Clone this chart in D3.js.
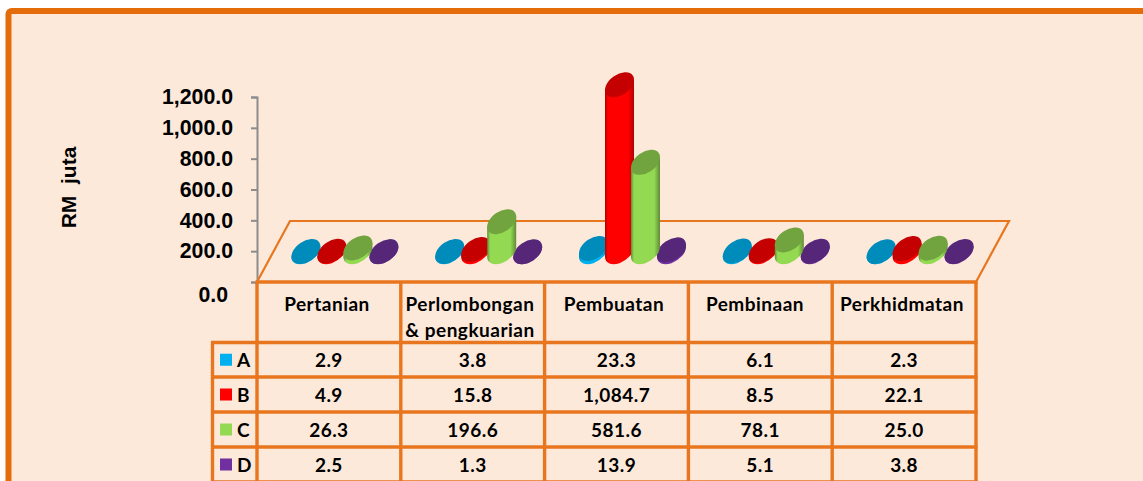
<!DOCTYPE html>
<html><head><meta charset="utf-8">
<script src="https://cdn.jsdelivr.net/npm/d3@7/dist/d3.min.js"></script>
<style>html,body{margin:0;padding:0;background:#fff;overflow:hidden}svg{display:block}</style>
</head><body><svg id="c" width="1143" height="481"></svg>
<script>
const categories = [["Pertanian"], ["Perlombongan", "& pengkuarian"], ["Pembuatan"], ["Pembinaan"], ["Perkhidmatan"]];
const seriesNames = ["A", "B", "C", "D"];
const seriesA = [2.9, 3.8, 23.3, 6.1, 2.3];
const seriesB = [4.9, 15.8, 1084.7, 8.5, 22.1];
const seriesC = [26.3, 196.6, 581.6, 78.1, 25.0];
const seriesD = [2.5, 1.3, 13.9, 5.1, 3.8];
const yTicks = [0, 200, 400, 600, 800, 1000, 1200];
const bodyColors = ["#00B0F0", "#FF0000", "#94D952", "#7030A0"];
const topColors = ["#008CBA", "#C40000", "#71A33F", "#562779"];
const edgeColors = ["#0086B8", "#B00000", "#5F8A36", "#4E2270"];
const drawOrder = [0, 3, 1, 2];
const allSeries = [seriesA, seriesB, seriesC, seriesD];

const ORANGE = "#E8761E", BG = "#FDE9DA";
const svg = d3.select("#c");
const fmt = d3.format(",.1f");

// frame
svg.append("rect").attr("x", 8.5).attr("y", 11).attr("width", 1300).attr("height", 700).attr("rx", 3)
  .attr("fill", BG).attr("stroke", "#E46C0A").attr("stroke-width", 6);

// scales
const colX = d3.scaleLinear().domain([0, 5]).range([257, 976]);
const y = d3.scaleLinear().domain([0, 1200]).range([282, 97]);
const rowY = [282, 342.5, 377, 412, 447, 482];
const baseShift = 30; // floor centre line of the bars above the axis zero
const group = d3.scaleBand().domain(d3.range(4)).range([-36, 68]);

// axis
const axis = d3.axisLeft(y).tickValues(yTicks).tickFormat(fmt).tickSize(6).tickPadding(18);
const ax = svg.append("g").attr("transform", "translate(257,0)").call(axis);
ax.select(".domain").attr("stroke", "#8C8C8C").attr("stroke-width", 2);
ax.selectAll(".tick line").attr("stroke", "#8C8C8C").attr("stroke-width", 2);
ax.selectAll("text").attr("font-family", "'Liberation Sans',Arial,sans-serif").attr("font-weight", 700)
  .attr("font-size", 21.3).attr("fill", "#000");
ax.selectAll(".tick").filter(d => d === 0).select("text").attr("x", -29).attr("dy", "0.9em");

svg.append("text").attr("transform", "translate(75.5,187.5) rotate(-90)").attr("text-anchor", "middle")
  .attr("font-family", "'Liberation Sans',Arial,sans-serif").attr("font-weight", 700).attr("font-size", 21)
  .attr("xml:space", "preserve").style("white-space", "pre").text("RM  juta");

// floor
svg.append("path").attr("d", d3.line()([[257, 282], [290, 221], [1009, 221], [976, 282]]))
  .attr("fill", "none").attr("stroke", ORANGE).attr("stroke-width", 2.2);

// gradients
const defs = svg.append("defs");
bodyColors.forEach((c, i) => {
  const g = defs.append("linearGradient").attr("id", "g" + i);
  [[0, edgeColors[i]], [0.1, c], [0.8, c], [1, edgeColors[i]]].forEach(s =>
    g.append("stop").attr("offset", s[0]).attr("stop-color", s[1]));
});

// cylinders
const rx = 16.2, ry = 10.2, ang = -35, W = 14.5, dy = 5.1;
const marks = svg.append("g");
categories.forEach((cat, ci) => {
  const cx = (colX(ci) + colX(ci + 1)) / 2;
  drawOrder.forEach(si => {
    const v = allSeries[si][ci];
    const x = cx + group(si) + group.bandwidth() / 2;
    const yb = y(0) - baseShift, yt = y(v) - baseShift;
    marks.append("path")
      .attr("d", `M${x - W},${yb + dy}L${x - W},${yt + dy}L${x + W},${yt - dy}L${x + W},${yb - dy}A${rx},${ry} ${ang} 0 1 ${x - W},${yb + dy}Z`)
      .attr("fill", `url(#g${si})`);
    marks.append("ellipse").attr("rx", rx).attr("ry", ry)
      .attr("transform", `translate(${x},${yt}) rotate(${ang})`).attr("fill", topColors[si]);
  });
});

// table
const tf = "Lato,'Open Sans',sans-serif";
const grid = svg.append("g").attr("stroke", ORANGE).attr("stroke-width", 3.4).attr("fill", "none");
d3.range(6).forEach(i => grid.append("line").attr("x1", colX(i)).attr("x2", colX(i)).attr("y1", 282).attr("y2", 482));
grid.append("line").attr("x1", 212.5).attr("x2", 212.5).attr("y1", rowY[1]).attr("y2", 482);
rowY.forEach((ry0, i) => grid.append("line").attr("x1", i === 0 ? 255.5 : 211).attr("x2", 977.5).attr("y1", ry0).attr("y2", ry0));

const headerCx = [327, 470, 614, 755, 902];
categories.forEach((lines, ci) => {
  lines.forEach((t, li) => svg.append("text").attr("x", headerCx[ci]).attr("y", 311 + li * 26)
    .attr("text-anchor", "middle").attr("font-family", tf).attr("font-weight", 700).attr("font-size", 19)
    .attr("letter-spacing", 0.5).text(t));
});
seriesNames.forEach((n, si) => {
  const cy = (rowY[si + 1] + rowY[si + 2]) / 2;
  svg.append("rect").attr("x", 220).attr("y", cy - 6).attr("width", 12).attr("height", 12).attr("fill", bodyColors[si]);
  svg.append("text").attr("x", 237).attr("y", cy + 7.5).attr("font-family", tf).attr("font-weight", 700)
    .attr("font-size", 19).text(n);
  allSeries[si].forEach((v, ci) => svg.append("text").attr("x", (colX(ci) + colX(ci + 1)) / 2).attr("y", cy + 7.5)
    .attr("text-anchor", "middle").attr("font-family", tf).attr("font-weight", 700).attr("font-size", 19)
    .attr("letter-spacing", 0.45).text(fmt(v)));
});
</script></body></html>
